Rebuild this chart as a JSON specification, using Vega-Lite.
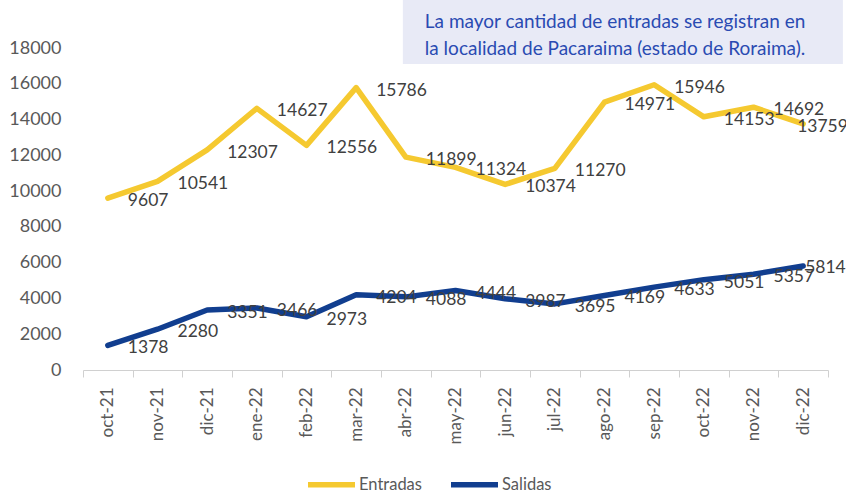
{
  "$schema": "https://vega.github.io/schema/vega-lite/v6.json",
  "width": 745,
  "height": 322,
  "autosize": {"type": "none"},
  "padding": {"left": 83, "top": 48, "right": 18, "bottom": 122},
  "background": "white",
  "config": {"font": "Lato", "view": {"stroke": null}},
  "datasets": {
    "flujos": [
      {"mes": "oct-21", "serie": "Entradas", "valor": 9607},
      {"mes": "nov-21", "serie": "Entradas", "valor": 10541},
      {"mes": "dic-21", "serie": "Entradas", "valor": 12307},
      {"mes": "ene-22", "serie": "Entradas", "valor": 14627},
      {"mes": "feb-22", "serie": "Entradas", "valor": 12556},
      {"mes": "mar-22", "serie": "Entradas", "valor": 15786},
      {"mes": "abr-22", "serie": "Entradas", "valor": 11899},
      {"mes": "may-22", "serie": "Entradas", "valor": 11324},
      {"mes": "jun-22", "serie": "Entradas", "valor": 10374},
      {"mes": "jul-22", "serie": "Entradas", "valor": 11270},
      {"mes": "ago-22", "serie": "Entradas", "valor": 14971},
      {"mes": "sep-22", "serie": "Entradas", "valor": 15946},
      {"mes": "oct-22", "serie": "Entradas", "valor": 14153},
      {"mes": "nov-22", "serie": "Entradas", "valor": 14692},
      {"mes": "dic-22", "serie": "Entradas", "valor": 13759},
      {"mes": "oct-21", "serie": "Salidas", "valor": 1378},
      {"mes": "nov-21", "serie": "Salidas", "valor": 2280},
      {"mes": "dic-21", "serie": "Salidas", "valor": 3351},
      {"mes": "ene-22", "serie": "Salidas", "valor": 3466},
      {"mes": "feb-22", "serie": "Salidas", "valor": 2973},
      {"mes": "mar-22", "serie": "Salidas", "valor": 4204},
      {"mes": "abr-22", "serie": "Salidas", "valor": 4088},
      {"mes": "may-22", "serie": "Salidas", "valor": 4444},
      {"mes": "jun-22", "serie": "Salidas", "valor": 3987},
      {"mes": "jul-22", "serie": "Salidas", "valor": 3695},
      {"mes": "ago-22", "serie": "Salidas", "valor": 4169},
      {"mes": "sep-22", "serie": "Salidas", "valor": 4633},
      {"mes": "oct-22", "serie": "Salidas", "valor": 5051},
      {"mes": "nov-22", "serie": "Salidas", "valor": 5357},
      {"mes": "dic-22", "serie": "Salidas", "valor": 5814}
    ]
  },
  "data": {"name": "flujos"},
  "encoding": {
    "x": {
      "field": "mes",
      "type": "nominal",
      "scale": {
        "type": "band",
        "domain": ["oct-21", "nov-21", "dic-21", "ene-22", "feb-22", "mar-22", "abr-22", "may-22", "jun-22", "jul-22", "ago-22", "sep-22", "oct-22", "nov-22", "dic-22"],
        "paddingInner": 0,
        "paddingOuter": 0
      },
      "axis": {
        "title": null,
        "labelAngle": -90,
        "labelAlign": "right",
        "labelBaseline": "middle",
        "labelFontSize": 17,
        "labelColor": "#595959",
        "labelPadding": 10,
        "tickBand": "extent",
        "tickSize": 7,
        "tickColor": "#D0D0D0",
        "domainColor": "#D0D0D0",
        "grid": false
      }
    },
    "y": {
      "field": "valor",
      "type": "quantitative",
      "scale": {"domain": [0, 18000], "nice": false},
      "axis": {
        "title": null,
        "values": [0, 2000, 4000, 6000, 8000, 10000, 12000, 14000, 16000, 18000],
        "format": "d",
        "domain": false,
        "ticks": false,
        "grid": false,
        "labelFontSize": 18,
        "labelColor": "#595959",
        "labelPadding": 22
      }
    }
  },
  "layer": [
    {
      "data": {"values": [{"techo": 20683, "base": 17106}]},
      "mark": {"type": "rect", "color": "#E8EAF6"},
      "encoding": {
        "x": {"datum": "abr-22", "type": "nominal", "bandPosition": 0.44},
        "x2": {"datum": "dic-22", "bandPosition": 1.3},
        "y": {"field": "techo", "type": "quantitative"},
        "y2": {"field": "base"}
      }
    },
    {
      "data": {"values": [
        {"texto": "La mayor cantidad de entradas se registran en", "linea": 19118},
        {"texto": "la localidad de Pacaraima (estado de Roraima).", "linea": 17609}
      ]},
      "mark": {"type": "text", "align": "left", "baseline": "alphabetic", "dx": 19, "fontSize": 19, "color": "#2A4BB2"},
      "encoding": {
        "x": {"datum": "abr-22", "type": "nominal"},
        "y": {"field": "linea", "type": "quantitative"},
        "text": {"field": "texto"}
      }
    },
    {
      "mark": {"type": "line", "strokeWidth": 5.5, "strokeCap": "round", "strokeJoin": "round"},
      "encoding": {
        "color": {
          "field": "serie",
          "type": "nominal",
          "scale": {"domain": ["Entradas", "Salidas"], "range": ["#F5C930", "#113E8F"]},
          "legend": {
            "title": null,
            "orient": "none",
            "legendX": 222,
            "legendY": 410,
            "direction": "horizontal",
            "symbolType": "stroke",
            "symbolSize": 2209,
            "symbolStrokeWidth": 5.5,
            "labelFontSize": 16.5,
            "labelColor": "#595959",
            "labelOffset": 1,
            "columnPadding": 18
          }
        }
      }
    },
    {
      "transform": [{"filter": "datum.mes != 'dic-22'"}],
      "mark": {"type": "text", "align": "left", "baseline": "middle", "dx": 20, "dy": 3, "fontSize": 17.5, "color": "#404040"},
      "encoding": {
        "text": {"field": "valor", "type": "quantitative", "format": "d"}
      }
    },
    {
      "transform": [{"filter": "datum.mes == 'dic-22' && datum.serie == 'Entradas'"}],
      "mark": {"type": "text", "align": "left", "baseline": "middle", "dx": -6, "dy": 3, "fontSize": 17.5, "color": "#404040"},
      "encoding": {
        "text": {"field": "valor", "type": "quantitative", "format": "d"}
      }
    },
    {
      "transform": [{"filter": "datum.mes == 'dic-22' && datum.serie == 'Salidas'"}],
      "mark": {"type": "text", "align": "left", "baseline": "middle", "dx": 2, "dy": 2, "fontSize": 17.5, "color": "#404040"},
      "encoding": {
        "text": {"field": "valor", "type": "quantitative", "format": "d"}
      }
    }
  ]
}
